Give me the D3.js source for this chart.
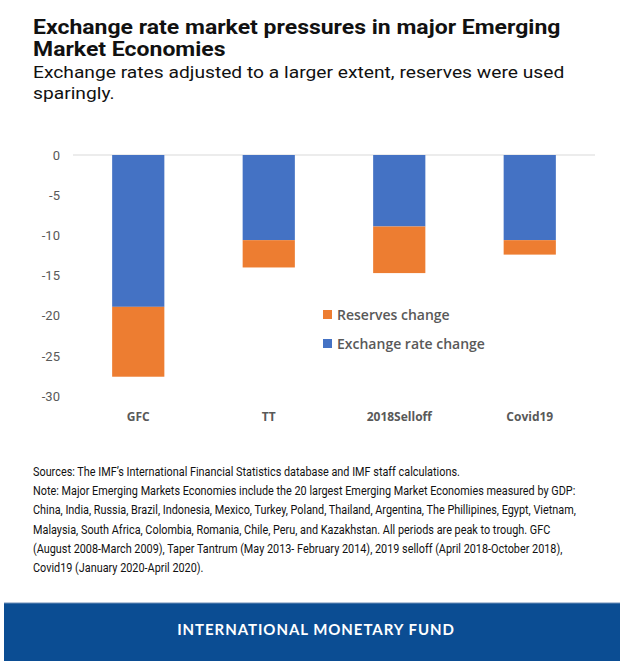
<!DOCTYPE html>
<html><head><meta charset="utf-8">
<script src="https://cdn.jsdelivr.net/npm/d3@7"></script>
<style>body{margin:0;background:#fff;} svg{display:block;}</style>
</head><body>
<script>
const categories = ["GFC", "TT", "2018Selloff", "Covid19"];
const exchangeRateChange = [-18.9, -10.6, -8.9, -10.6];
const reservesChange = [-8.7, -3.4, -5.8, -1.8];
const yTicks = [0, -5, -10, -15, -20, -25, -30];
const seriesNames = ["Reserves change", "Exchange rate change"];
const colors = {"Exchange rate change": "#4472C4", "Reserves change": "#ED7D31"};
const titleLines = ["Exchange rate market pressures in major Emerging", "Market Economies"];
const subtitleLines = ["Exchange rates adjusted to a larger extent, reserves were used", "sparingly."];
const noteLines = [
 "Sources: The IMF\u2019s International Financial Statistics database and IMF staff calculations.",
 "Note: Major Emerging Markets Economies include the 20 largest Emerging Market Economies measured by GDP:",
 "China, India, Russia, Brazil, Indonesia, Mexico, Turkey, Poland, Thailand, Argentina, The Phillipines, Egypt, Vietnam,",
 "Malaysia, South Africa, Colombia, Romania, Chile, Peru, and Kazakhstan. All periods are peak to trough. GFC",
 "(August 2008-March 2009), Taper Tantrum (May 2013- February 2014), 2019 selloff (April 2018-October 2018),",
 "Covid19 (January 2020-April 2020)."
];

const W = 633, H = 665;
const svg = d3.select("body").append("svg").attr("width", W).attr("height", H);
svg.append("rect").attr("width", W).attr("height", H).attr("fill", "#fff");

// Title
svg.append("g").attr("transform", "translate(33,0) scale(1.095,1)")
  .selectAll("text").data(titleLines).join("text")
  .attr("x", 0).attr("y", (d,i) => 34 + i*22.5)
  .attr("font-family", "Roboto").attr("font-weight", "bold").attr("font-size", 21)
  .attr("fill", "#111").text(d => d);
svg.append("g").attr("transform", "translate(33,0) scale(1.105,1)")
  .selectAll("text").data(subtitleLines).join("text")
  .attr("x", 0).attr("y", (d,i) => 78 + i*20.6)
  .attr("font-family", "Roboto").attr("font-size", 17.4)
  .attr("fill", "#111").text(d => d);

// Chart
const x = d3.scaleBand().domain(categories).range([73, 595]).paddingInner(0.6).paddingOuter(0.3);
const y = d3.scaleLinear().domain([-30, 0]).range([396, 155]);

svg.append("line").attr("x1", 73).attr("x2", 595).attr("y1", y(0)).attr("y2", y(0))
  .attr("stroke", "#d9d9d9").attr("stroke-width", 1);

const yAxis = svg.append("g").attr("transform", "translate(60,0)")
  .call(d3.axisLeft(y).tickValues(yTicks).tickFormat(d => String(d)).tickSize(0).tickPadding(0));
yAxis.select(".domain").remove();
yAxis.selectAll("text").attr("font-family", "Roboto").attr("font-size", 13).attr("fill", "#595959");

const rows = categories.map((c,i) => ({c, ex: exchangeRateChange[i], res: reservesChange[i]}));
const bars = svg.append("g");
bars.selectAll("rect.ex").data(rows).join("rect").attr("class","ex")
  .attr("x", d => x(d.c)).attr("width", x.bandwidth())
  .attr("y", y(0)).attr("height", d => y(d.ex) - y(0))
  .attr("fill", colors["Exchange rate change"]);
bars.selectAll("rect.res").data(rows).join("rect").attr("class","res")
  .attr("x", d => x(d.c)).attr("width", x.bandwidth())
  .attr("y", d => y(d.ex)).attr("height", d => y(d.ex + d.res) - y(d.ex))
  .attr("fill", colors["Reserves change"]);

const xAxis = svg.append("g").attr("transform", "translate(0,410)")
  .call(d3.axisBottom(x).tickSize(0).tickPadding(0));
xAxis.select(".domain").remove();
xAxis.selectAll("text").attr("font-family", "Open Sans").attr("font-weight", "bold")
  .attr("font-size", 12).attr("fill", "#595959").attr("dy", "0.9em");

// Legend
const lg = svg.append("g").selectAll("g").data(seriesNames).join("g")
  .attr("transform", (d,i) => `translate(323,${315 + i*29})`);
lg.append("rect").attr("x", 0).attr("y", -5).attr("width", 9).attr("height", 9)
  .attr("fill", d => colors[d]);
lg.append("text").attr("x", 14).attr("y", 0).attr("dy", "0.35em")
  .attr("font-family", "Open Sans").attr("font-weight", 600).attr("font-size", 14)
  .attr("fill", "#595959").text(d => d);

// Notes (condensed to match reference)
svg.append("g").attr("transform", "translate(33,0) scale(0.905,1)")
  .selectAll("text").data(noteLines).join("text")
  .attr("x", 0).attr("y", (d,i) => 476 + i*19.2)
  .attr("font-family", "Roboto").attr("font-size", 12).attr("fill", "#111")
  .text(d => d);

// Footer banner
svg.append("rect").attr("x", 4).attr("y", 603).attr("width", 616).attr("height", 58)
  .attr("fill", "#0b4d93");
svg.append("line").attr("x1", 4).attr("x2", 620).attr("y1", 603).attr("y2", 603)
  .attr("stroke", "#6f8fb8").attr("stroke-width", 1);
svg.append("text").attr("x", 316).attr("y", 634.5).attr("text-anchor", "middle")
  .attr("font-family", "Lato").attr("font-weight", "bold").attr("font-size", 15)
  .attr("letter-spacing", 0.95).attr("fill", "#fff").text("INTERNATIONAL MONETARY FUND");
</script>
</body></html>
